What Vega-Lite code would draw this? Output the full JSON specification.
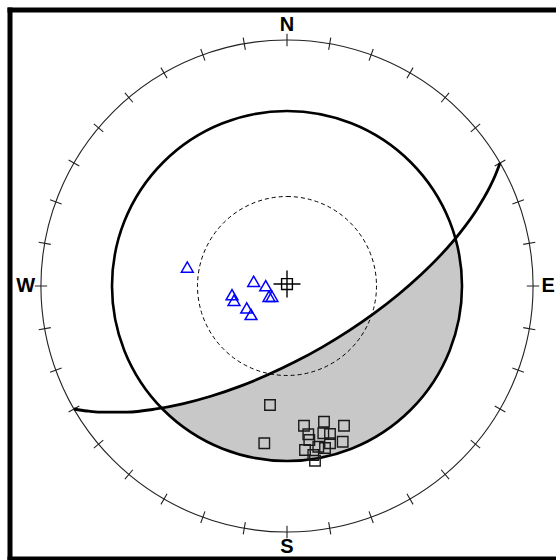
{
  "$schema": "https://vega.github.io/schema/vega-lite/v6.json",
  "width": 546.5,
  "height": 549,
  "autosize": {"type": "none"},
  "padding": {"left": 9.5, "top": 9.5, "right": 0, "bottom": 1.5},
  "background": "white",
  "config": {
    "view": {"stroke": null},
    "axis": {"domain": true, "domainColor": "black", "domainWidth": 5, "domainCap": "square", "ticks": false, "labels": false, "grid": false}
  },
  "resolve": {"axis": {"x": "independent", "y": "independent"}},
  "datasets": {
    "greatcircle": [
      {"phi": 0, "x": 0.8660, "y": 0.5000},
      {"phi": 5, "x": 0.8468, "y": 0.4505},
      {"phi": 10, "x": 0.8241, "y": 0.4018},
      {"phi": 20, "x": 0.7692, "y": 0.3073},
      {"phi": 30, "x": 0.7031, "y": 0.2161},
      {"phi": 40, "x": 0.6274, "y": 0.1284},
      {"phi": 50, "x": 0.5431, "y": 0.0444},
      {"phi": 60, "x": 0.4516, "y": -0.0357},
      {"phi": 70, "x": 0.3538, "y": -0.1115},
      {"phi": 80, "x": 0.2507, "y": -0.1826},
      {"phi": 90, "x": 0.1434, "y": -0.2484},
      {"phi": 100, "x": 0.0327, "y": -0.3084},
      {"phi": 110, "x": -0.0803, "y": -0.3621},
      {"phi": 120, "x": -0.1949, "y": -0.4089},
      {"phi": 130, "x": -0.3100, "y": -0.4482},
      {"phi": 140, "x": -0.4249, "y": -0.4791},
      {"phi": 150, "x": -0.5387, "y": -0.5009},
      {"phi": 160, "x": -0.6507, "y": -0.5125},
      {"phi": 170, "x": -0.7601, "y": -0.5128},
      {"phi": 175, "x": -0.8135, "y": -0.5081},
      {"phi": 180, "x": -0.8660, "y": -0.5000}
    ],
    "triangles": [
      {"x": -0.4053, "y": 0.0768},
      {"x": -0.1354, "y": 0.0191},
      {"x": -0.0866, "y": 0.0012},
      {"x": -0.0732, "y": -0.0419},
      {"x": -0.0610, "y": -0.0419},
      {"x": -0.2236, "y": -0.0354},
      {"x": -0.2154, "y": -0.0581},
      {"x": -0.1638, "y": -0.0894},
      {"x": -0.1463, "y": -0.1154}
    ],
    "squares": [
      {"x": -0.0691, "y": -0.4837},
      {"x": -0.0923, "y": -0.6394},
      {"x": 0.0691, "y": -0.5679},
      {"x": 0.1504, "y": -0.5516},
      {"x": 0.2317, "y": -0.5679},
      {"x": 0.0866, "y": -0.6029},
      {"x": 0.0907, "y": -0.6260},
      {"x": 0.1476, "y": -0.5988},
      {"x": 0.1748, "y": -0.6016},
      {"x": 0.2264, "y": -0.6329},
      {"x": 0.0732, "y": -0.6667},
      {"x": 0.1272, "y": -0.6533},
      {"x": 0.1748, "y": -0.6394},
      {"x": 0.1069, "y": -0.6870},
      {"x": 0.1138, "y": -0.7102},
      {"x": 0.1545, "y": -0.6585}
    ],
    "ticks": [
      {"az": 0}, {"az": 10}, {"az": 20}, {"az": 30}, {"az": 40}, {"az": 50}, {"az": 60}, {"az": 70}, {"az": 80},
      {"az": 90}, {"az": 100}, {"az": 110}, {"az": 120}, {"az": 130}, {"az": 140}, {"az": 150}, {"az": 160}, {"az": 170},
      {"az": 180}, {"az": 190}, {"az": 200}, {"az": 210}, {"az": 220}, {"az": 230}, {"az": 240}, {"az": 250}, {"az": 260},
      {"az": 270}, {"az": 280}, {"az": 290}, {"az": 300}, {"az": 310}, {"az": 320}, {"az": 330}, {"az": 340}, {"az": 350}
    ],
    "labels": [
      {"label": "N", "az": 0},
      {"label": "E", "az": 90},
      {"label": "S", "az": 180},
      {"label": "W", "az": 270}
    ]
  },
  "layer": [
    {
      "data": {"values": [{"circle": "cone", "r": 0.7114}]},
      "mark": {"type": "arc", "theta": 0, "theta2": 6.2832, "fill": "#c8c8c8"},
      "encoding": {
        "x": {"datum": 0, "type": "quantitative", "scale": {"domain": [-1.128049, 1.093496], "nice": false, "zero": false}, "axis": {"orient": "top", "title": null}},
        "y": {"datum": 0, "type": "quantitative", "scale": {"domain": [-1.107724, 1.123984], "nice": false, "zero": false}, "axis": {"orient": "left", "title": null}},
        "radius": {"field": "r", "type": "quantitative", "scale": {"type": "linear", "domain": [0, 1], "range": [0, 246], "zero": true, "nice": false}}
      }
    },
    {
      "data": {"name": "greatcircle"},
      "mark": {"type": "area", "fill": "white", "interpolate": "monotone"},
      "encoding": {
        "x": {"field": "x", "type": "quantitative", "scale": {"domain": [-1.128049, 1.093496], "nice": false, "zero": false}, "axis": {"orient": "bottom", "title": null}},
        "y": {"field": "y", "type": "quantitative", "scale": {"domain": [-1.107724, 1.123984], "nice": false, "zero": false}, "axis": null},
        "y2": {"datum": 0.9}
      }
    },
    {
      "data": {"values": [{"circle": "primitive", "r": 1}]},
      "mark": {"type": "arc", "theta": 0, "theta2": 6.2832, "filled": false, "stroke": "#222222", "strokeWidth": 1.1},
      "encoding": {
        "x": {"datum": 0, "type": "quantitative", "axis": null},
        "y": {"datum": 0, "type": "quantitative", "axis": null},
        "radius": {"field": "r", "type": "quantitative"}
      }
    },
    {
      "data": {"name": "ticks"},
      "mark": {"type": "arc", "filled": false, "stroke": "#222222", "strokeWidth": 1.1},
      "encoding": {
        "x": {"datum": 0, "type": "quantitative", "axis": null},
        "y": {"datum": 0, "type": "quantitative", "axis": null},
        "theta": {"field": "az", "type": "quantitative", "stack": null, "scale": {"domain": [0, 360], "range": [0, 6.283185307179586], "zero": true, "nice": false}},
        "theta2": {"field": "az"},
        "radius": {"datum": 1.025, "type": "quantitative"},
        "radius2": {"datum": 0.975}
      }
    },
    {
      "data": {"values": [{"circle": "bold", "r": 0.7114}]},
      "mark": {"type": "arc", "theta": 0, "theta2": 6.2832, "filled": false, "stroke": "black", "strokeWidth": 2.6},
      "encoding": {
        "x": {"datum": 0, "type": "quantitative", "axis": null},
        "y": {"datum": 0, "type": "quantitative", "axis": null},
        "radius": {"field": "r", "type": "quantitative"}
      }
    },
    {
      "data": {"values": [{"circle": "dashed", "r": 0.3638}]},
      "mark": {"type": "arc", "theta": 0, "theta2": 6.2832, "filled": false, "stroke": "black", "strokeWidth": 1, "strokeDash": [4, 3]},
      "encoding": {
        "x": {"datum": 0, "type": "quantitative", "axis": null},
        "y": {"datum": 0, "type": "quantitative", "axis": null},
        "radius": {"field": "r", "type": "quantitative"}
      }
    },
    {
      "data": {"name": "greatcircle"},
      "mark": {"type": "line", "stroke": "black", "strokeWidth": 2.8, "interpolate": "monotone"},
      "encoding": {
        "x": {"field": "x", "type": "quantitative", "axis": null},
        "y": {"field": "y", "type": "quantitative", "axis": null}
      }
    },
    {
      "data": {"name": "labels"},
      "mark": {"type": "text", "font": "Liberation Sans", "fontWeight": "bold", "fontSize": 20, "align": "center", "baseline": "middle", "color": "black"},
      "encoding": {
        "x": {"datum": 0, "type": "quantitative", "axis": null},
        "y": {"datum": 0, "type": "quantitative", "axis": null},
        "theta": {"field": "az", "type": "quantitative", "stack": null},
        "radius": {"datum": 1.062, "type": "quantitative"},
        "text": {"field": "label"}
      }
    },
    {
      "data": {"name": "triangles"},
      "mark": {"type": "point", "shape": "triangle-up", "filled": false, "stroke": "#0000ff", "strokeWidth": 1.5, "size": 140, "opacity": 1},
      "encoding": {
        "x": {"field": "x", "type": "quantitative", "axis": null},
        "y": {"field": "y", "type": "quantitative", "axis": null}
      }
    },
    {
      "data": {"name": "squares"},
      "mark": {"type": "point", "shape": "square", "filled": false, "stroke": "#1a1a1a", "strokeWidth": 1.4, "size": 110, "opacity": 1},
      "encoding": {
        "x": {"field": "x", "type": "quantitative", "axis": null},
        "y": {"field": "y", "type": "quantitative", "axis": null}
      }
    },
    {
      "data": {"values": [{"x": 0, "y": 0.008}]},
      "mark": {"type": "point", "shape": "M-1,0H1M0,-1V1M-0.4,-0.4H0.4V0.4H-0.4Z", "filled": false, "stroke": "black", "strokeWidth": 1.4, "size": 729, "opacity": 1},
      "encoding": {
        "x": {"field": "x", "type": "quantitative", "axis": null},
        "y": {"field": "y", "type": "quantitative", "axis": null}
      }
    }
  ]
}
